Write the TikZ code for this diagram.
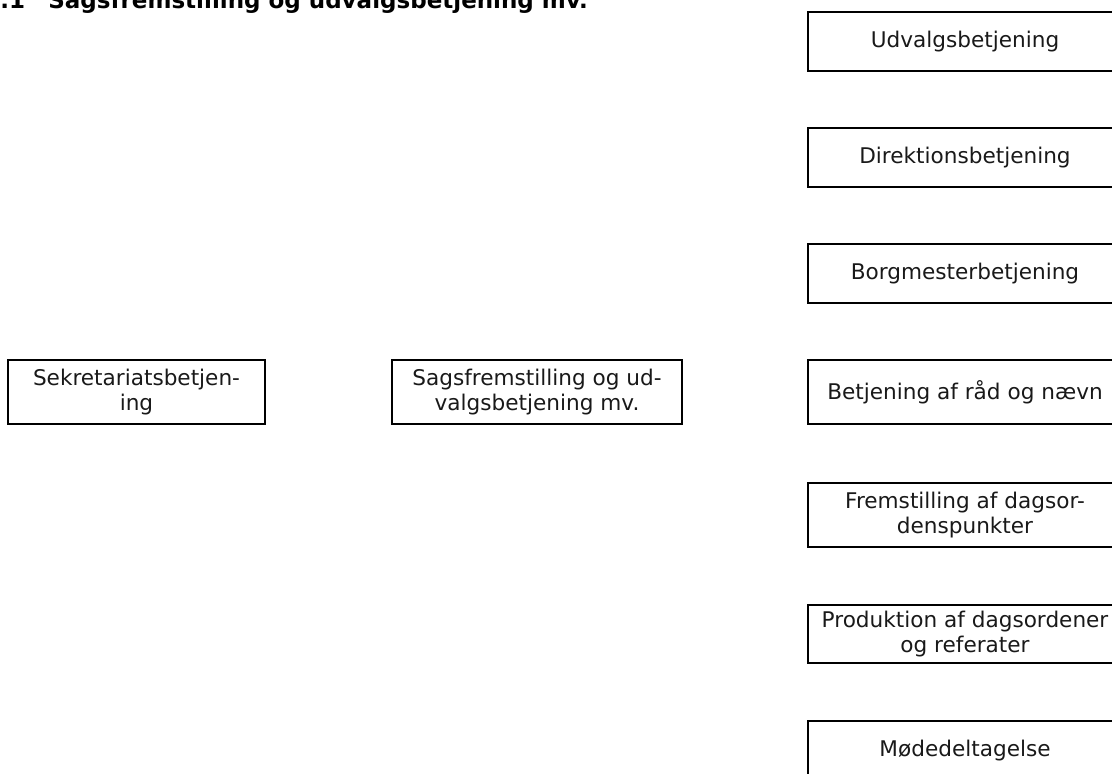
\documentclass[tikz,border=0pt]{standalone}
\usepackage{fontspec}
\setmainfont{DejaVu Sans}
\begin{document}
\begin{tikzpicture}[x=0.5pt, y=-0.5pt,
  box/.style={draw=black, line width=1pt, inner sep=0pt, align=center,
    font=\fontsize{10.8}{12.6}\selectfont, text=black!90},
  leftbox/.style={box, minimum width=128.5pt, minimum height=32pt},
  midbox/.style={box, minimum width=145pt, minimum height=32pt},
  rightbox/.style={box, minimum width=157pt},
  heading/.style={font=\fontsize{11.5}{13.8}\selectfont\bfseries, anchor=base west, inner sep=0pt}]
  \useasboundingbox (0,0) rectangle (1112,773);

  % section heading
  \node[heading] (num) at (0,8) {.1};
  \node[heading] (title) at (48,8) {Sagsfremstilling og udvalgsbetjening mv.};

  % left and middle boxes
  \node[leftbox] (sek) at (136.5,392) {Sekretariatsbetjen-\\ing};
  \node[midbox] (sag) at (537,392) {Sagsfremstilling og ud-\\valgsbetjening mv.};

  % right column
  \node[rightbox, minimum height=29.5pt] (udv) at (965,41.5) {Udvalgsbetjening};
  \node[rightbox, minimum height=29.5pt] (dir) at (965,157.5) {Direktionsbetjening};
  \node[rightbox, minimum height=29.5pt] (borg) at (965,273.5) {Borgmesterbetjening};
  \node[rightbox, minimum height=32pt] (raad) at (965,392) {Betjening af råd og nævn};
  \node[rightbox, minimum height=32pt] (frem) at (965,515) {Fremstilling af dagsor-\\denspunkter};
  \node[rightbox, minimum height=29pt] (prod) at (965,634) {Produktion af dagsordener\\og referater};
  \node[rightbox, minimum height=29.5pt] (mod) at (965,750.5) {Mødedeltagelse};
\end{tikzpicture}
\end{document}
